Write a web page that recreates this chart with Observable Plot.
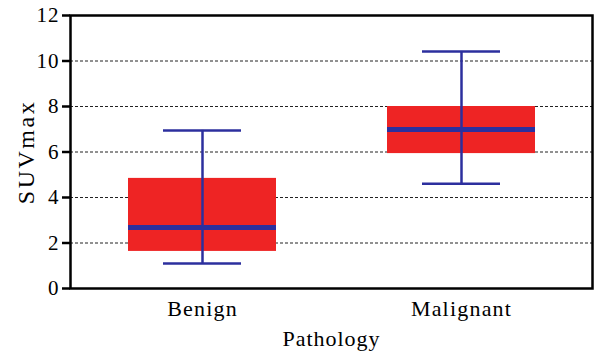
<!DOCTYPE html>
<html>
<head>
<meta charset="utf-8">
<script src="https://cdn.jsdelivr.net/npm/d3@7"></script>
<script src="https://cdn.jsdelivr.net/npm/@observablehq/plot@0.6"></script>
<style>
  html, body { margin: 0; padding: 0; background: #fff; }
</style>
</head>
<body>
<div id="chart"></div>
<script>
const groups = ["Benign", "Malignant"];
const q1 = [1.63, 5.93];
const median = [2.68, 6.99];
const q3 = [4.84, 8.0];
const whiskerLow = [1.1, 4.6];
const whiskerHigh = [6.95, 10.42];
const yTicks = [0, 2, 4, 6, 8, 10, 12];
const gridValues = [2, 4, 6, 8, 10];
const xLabel = "Pathology";
const yLabel = "SUVmax";

const data = groups.map((g, i) => ({
  group: g, q1: q1[i], median: median[i], q3: q3[i], lo: whiskerLow[i], hi: whiskerHigh[i]
}));

const blue = "#2c2f9e";
const red = "#ee2424";

const chart = Plot.plot({
  width: 597,
  height: 354,
  marginTop: 15,
  marginBottom: 66,
  marginLeft: 70,
  marginRight: 5,
  style: { fontFamily: "'Liberation Serif', 'Times New Roman', serif", fontSize: "22px", color: "#000", background: "#fff" },
  x: { domain: groups, type: "band", paddingInner: 0.43, paddingOuter: 0.22, label: null },
  y: { domain: [0, 12], label: null },
  marks: [
    Plot.ruleY(gridValues, { stroke: "#222", strokeWidth: 1, strokeDasharray: "3,2" }),
    Plot.barY(data, { x: "group", y1: "q1", y2: "q3", fill: red }),
    Plot.ruleX(data, { x: "group", y1: "lo", y2: "hi", stroke: blue, strokeWidth: 2.5 }),
    Plot.tickY(data, { x: "group", y: "lo", stroke: blue, strokeWidth: 2.5, insetLeft: 35, insetRight: 35 }),
    Plot.tickY(data, { x: "group", y: "hi", stroke: blue, strokeWidth: 2.5, insetLeft: 35, insetRight: 35 }),
    Plot.tickY(data, { x: "group", y: "median", stroke: blue, strokeWidth: 5 }),
    Plot.frame({ stroke: "#000", strokeWidth: 2.5 }),
    Plot.axisY(yTicks, { tickSize: 8, tickPadding: 3, strokeWidth: 2.5, label: null }),
    Plot.axisX({ tickSize: 0, tickPadding: 12, label: null }),
    Plot.text([xLabel], { frameAnchor: "bottom", lineAnchor: "top", dy: 42 }),
    Plot.text([yLabel], { frameAnchor: "left", textAnchor: "middle", rotate: -90, dx: -44 })
  ]
});
const tickStrings = yTicks.map(String);
chart.querySelectorAll("text").forEach(el => {
  const t = el.textContent.trim();
  if (t === yLabel) { el.setAttribute("font-size", "24"); el.setAttribute("letter-spacing", "2.5"); }
  else if (t === xLabel) { el.setAttribute("font-size", "22"); el.setAttribute("letter-spacing", "1"); }
  else if (groups.includes(t)) { el.setAttribute("font-size", "22"); el.setAttribute("letter-spacing", "1.2"); }
  else if (tickStrings.includes(t)) { el.setAttribute("font-size", "21"); el.setAttribute("letter-spacing", "1"); }
});
document.getElementById("chart").append(chart);
</script>
</body>
</html>
